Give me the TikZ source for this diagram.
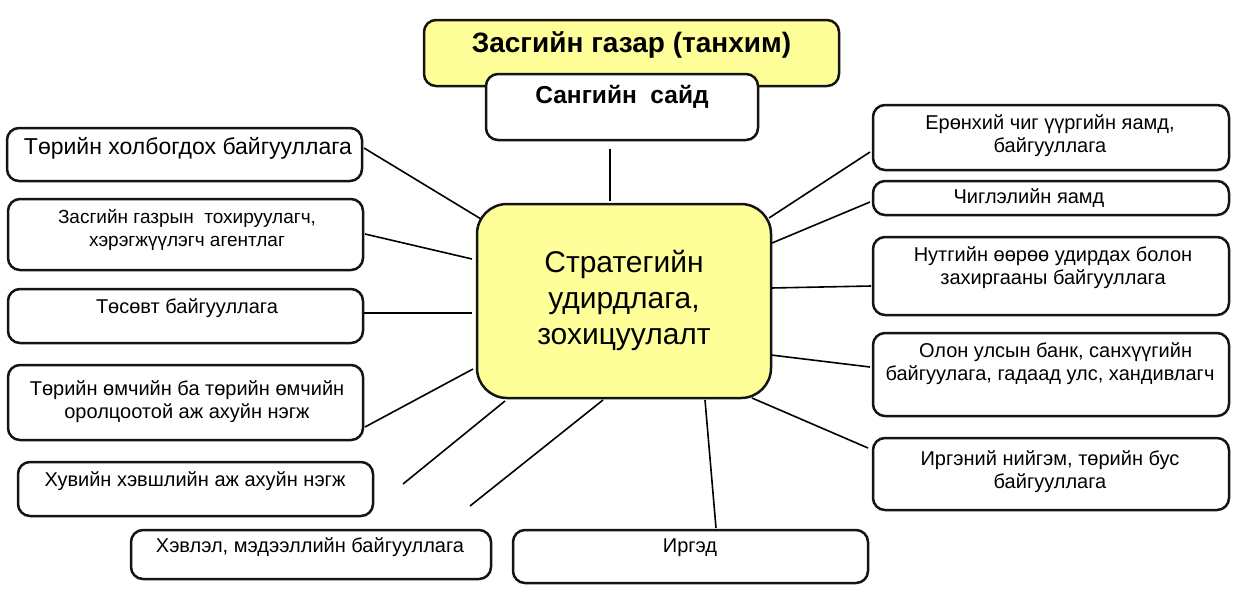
\documentclass[tikz,border=0pt]{standalone}
\usepackage{fontspec}
\setmainfont{Liberation Sans}
\definecolor{boxyellow}{RGB}{255,255,153}
\definecolor{edge}{RGB}{20,20,20}
\tikzset{
  box/.style={draw=edge, line width=2.5pt, rounded corners=12pt, fill=white, inner sep=0pt},
  ybox/.style={box, fill=boxyellow},
  txt/.style={inner sep=0pt, align=center, font=\fontsize{20}{23}\selectfont},
  link/.style={draw=black, line width=1.6pt}
}
\begin{document}
\begin{tikzpicture}[x=1pt,y=-1pt]
\useasboundingbox (0,0) rectangle (1239,603);
% top
\node[ybox, minimum width=415pt, minimum height=66pt] (gov) at (631.5,53) {};
\node[txt, font=\fontsize{28}{32}\selectfont\bfseries] (govt) at (631.5,45) {Засгийн газар (танхим)};
\node[box, minimum width=272pt, minimum height=66pt] (san) at (622,107) {};
\node[txt, font=\fontsize{24.5}{28}\selectfont\bfseries] (sant) at (622,97) {Сангийн\ \ сайд};
% center
\node[ybox, rounded corners=30pt, minimum width=294pt, minimum height=194pt] (c) at (624,301) {};
\node[txt, font=\fontsize{30}{36}\selectfont] (ct) at (624,300) {Стратегийн\\удирдлага,\\зохицуулалт};
% left
\node[box, minimum width=355pt, minimum height=53pt] (l1) at (184.5,154.5) {};
\node[txt, font=\fontsize{23}{26}\selectfont] at (188,148) {Төрийн холбогдох байгууллага};
\node[box, minimum width=355pt, minimum height=71pt] (l2) at (185.5,234.5) {};
\node[txt, font=\fontsize{19}{23}\selectfont] at (187,229.5) {Засгийн газрын\ \ тохируулагч,\\хэрэгжүүлэгч агентлаг};
\node[box, minimum width=355pt, minimum height=54pt] (l3) at (185.5,316) {};
\node[txt] at (187,308) {Төсөвт байгууллага};
\node[box, minimum width=355pt, minimum height=75pt] (l4) at (185.5,402.5) {};
\node[txt] at (187,401.5) {Төрийн өмчийн ба төрийн өмчийн\\оролцоотой аж ахуйн нэгж};
\node[box, minimum width=355pt, minimum height=54pt] (l5) at (195.5,489) {};
\node[txt] at (195,481) {Хувийн хэвшлийн аж ахуйн нэгж};
% bottom
\node[box, minimum width=360pt, minimum height=49pt] (b1) at (311,554.5) {};
\node[txt] at (310,547) {Хэвлэл, мэдээллийн байгууллага};
\node[box, minimum width=355pt, minimum height=53pt] (b2) at (690.5,556.5) {};
\node[txt] at (690,548) {Иргэд};
% right
\node[box, minimum width=356pt, minimum height=65pt] (r1) at (1051,137.5) {};
\node[txt] at (1050,135.5) {Ерөнхий чиг үүргийн яамд,\\байгууллага};
\node[box, minimum width=356pt, minimum height=34pt] (r2) at (1051,198) {};
\node[txt] at (1029,198) {Чиглэлийн яамд};
\node[box, minimum width=356pt, minimum height=78pt] (r3) at (1051,276) {};
\node[txt] at (1053,267.5) {Нутгийн өөрөө удирдах болон\\захиргааны байгууллага};
\node[box, minimum width=356pt, minimum height=83pt] (r4) at (1051,374.5) {};
\node[txt] at (1050,363.5) {\ \ Олон улсын банк, санхүүгийн\\байгуулага, гадаад улс, хандивлагч};
\node[box, minimum width=356pt, minimum height=72pt] (r5) at (1051,474) {};
\node[txt] at (1050,471.5) {Иргэний нийгэм, төрийн бус\\байгууллага};
% connector ends
\coordinate (s0) at (610,149); \coordinate (s1) at (610,201);
\coordinate (a0) at (364,148); \coordinate (a1) at (481,219);
\coordinate (b0) at (365,234); \coordinate (b1e) at (472,259);
\coordinate (c0) at (364,313); \coordinate (c1) at (472,313);
\coordinate (d0) at (365,427); \coordinate (d1) at (473,369);
\coordinate (e0) at (403,484); \coordinate (e1) at (505,401);
\coordinate (f0) at (470,506); \coordinate (f1) at (603,400);
\coordinate (g0) at (716,528); \coordinate (g1) at (705,400);
\coordinate (h0) at (868,448); \coordinate (h1) at (752,398);
\coordinate (i0) at (870,152); \coordinate (i1) at (769,218);
\coordinate (j0) at (870,202); \coordinate (j1) at (772,243);
\coordinate (k0) at (871,286); \coordinate (k1) at (771,288);
\coordinate (m0) at (870,367); \coordinate (m1) at (771,355);
\draw[link] (s0) -- (s1);
\draw[link] (a0) -- (a1);
\draw[link] (b0) -- (b1e);
\draw[link] (c0) -- (c1);
\draw[link] (d0) -- (d1);
\draw[link] (e0) -- (e1);
\draw[link] (f0) -- (f1);
\draw[link] (g0) -- (g1);
\draw[link] (h0) -- (h1);
\draw[link] (i0) -- (i1);
\draw[link] (j0) -- (j1);
\draw[link] (k0) -- (k1);
\draw[link] (m0) -- (m1);
\end{tikzpicture}
\end{document}
